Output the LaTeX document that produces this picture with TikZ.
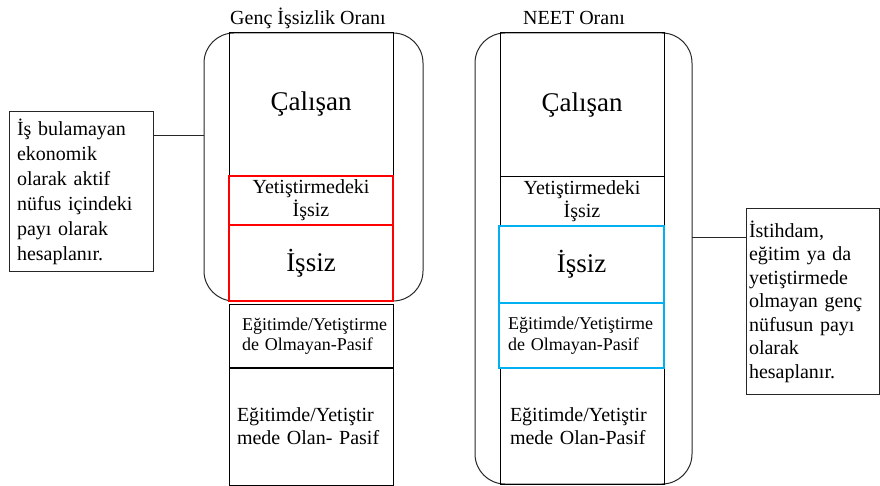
\documentclass[tikz,border=0pt]{standalone}
\usepackage{fontspec}
\setmainfont{Liberation Serif}
\usepackage{xcolor}
\usepackage{tikz}

\definecolor{neetblue}{RGB}{0,176,240}
\newcommand\cellbig{\fontsize{27}{32}\selectfont}
\newcommand\cellmid{\fontsize{20}{23}\selectfont}
\newcommand\cellsmall{\fontsize{18}{20.5}\selectfont}

\tikzset{
  cell/.style={draw=black, line width=1pt, anchor=north west, outer sep=0pt,
    inner sep=0pt, minimum width=164pt, text width=164pt, align=center},
  redcell/.style={cell, draw=red, line width=2pt},
  bluecell/.style={cell, draw=neetblue, line width=2pt, minimum width=165pt, text width=165pt},
  frame/.style={draw=black!85, line width=1pt, rounded corners=30pt,
    anchor=north west, outer sep=0pt, inner sep=0pt},
  note/.style={draw=black!85, line width=1pt, anchor=north west, outer sep=0pt,
    inner ysep=0pt, align=left},
  titletext/.style={font=\cellmid, inner sep=0pt}
}

\begin{document}
\begin{tikzpicture}[x=1pt,y=-1pt]
\useasboundingbox (0,0) rectangle (880,486);

% Genc issizlik orani
\node[titletext] (titleL) at (308,18) {Genç İşsizlik Oranı};
\node[frame, minimum width=219pt, minimum height=268pt] (frameL) at (204,33) {};
\node[cell, minimum height=143pt, font=\cellbig] (calisanL) at (229,33) {Çalışan};
\node[cell, line width=1pt, minimum height=64pt, font=\cellsmall, align=left,
  inner xsep=13pt, text width=138pt] (pasifL) at (229,304) {Eğitimde/Yetiştirme\\de Olmayan-Pasif};
\node[cell, minimum height=117pt, font=\cellmid, align=left,
  inner xsep=8pt, text width=148pt] (egitimL) at (229,368) {Eğitimde/Yetiştir\\mede Olan- Pasif};
\draw[line width=1.8pt] (pasifL.south west) -- (pasifL.south east);
\node[redcell, minimum height=49pt, font=\cellmid] (yetistirL) at (229,176) {Yetiştirmedeki\\İşsiz};
\node[redcell, minimum height=76pt, font=\cellbig] (issizL) at (229,225) {İşsiz};

% NEET orani
\node[titletext] (titleR) at (574,18) {NEET Oranı};
\node[frame, minimum width=217pt, minimum height=451pt] (frameR) at (475,33) {};
\node[cell, minimum height=144pt, font=\cellbig] (calisanR) at (500,33) {Çalışan};
\node[cell, minimum height=49pt, font=\cellmid] (yetistirR) at (500,177) {Yetiştirmedeki\\İşsiz};
\node[cell, minimum height=116pt, font=\cellmid, align=left,
  inner xsep=10pt, text width=144pt] (egitimR) at (500,368) {Eğitimde/Yetiştir\\mede Olan-Pasif};
\node[bluecell, minimum height=77pt, font=\cellbig] (issizR) at (499,226) {İşsiz};
\node[bluecell, minimum height=65pt, font=\cellsmall, align=left,
  inner xsep=9pt, text width=147pt] (pasifR) at (499,303) {Eğitimde/Yetiştirme\\de Olmayan-Pasif};

% aciklamalar
\node[note, minimum width=144pt, minimum height=159pt, inner xsep=8pt, text width=128pt,
  font=\fontsize{20}{25}\selectfont] (noteL) at (9,112)
  {İş bulamayan\\ekonomik\\olarak aktif\\nüfus içindeki\\payı olarak\\hesaplanır.};
\node[note, minimum width=133pt, minimum height=185pt, inner xsep=3pt, text width=127pt,
  font=\fontsize{20}{23.5}\selectfont] (noteR) at (746,209)
  {İstihdam,\\eğitim ya da\\yetiştirmede\\olmayan genç\\nüfusun payı\\olarak\\hesaplanır.};

\coordinate (linkL) at ([yshift=-24pt]noteL.north east);
\coordinate (linkR) at ([yshift=-29pt]noteR.north west);
\draw[line width=1pt, black!85] (linkL) -- (linkL -| frameL.west);
\draw[line width=1pt, black!85] (linkR -| frameR.east) -- (linkR);
\end{tikzpicture}
\end{document}
